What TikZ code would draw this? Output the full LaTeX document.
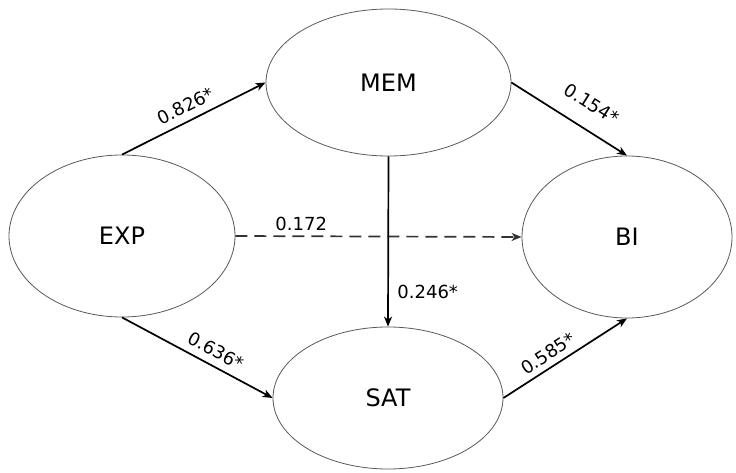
\documentclass[tikz,border=0pt]{standalone}
\usepackage{fontspec}
\setmainfont{DejaVu Sans}
\usetikzlibrary{shapes.geometric,arrows.meta}

\tikzset{
  construct/.style={ellipse, draw=black!65, line width=0.8pt, inner sep=0pt,
    font=\fontsize{24}{28}\selectfont},
  path/.style={line width=1.7pt, -{Stealth[length=10pt,width=8pt,inset=3pt]}},
  weakpath/.style={path, draw=black!80, dash pattern=on 12pt off 7pt},
  coef/.style={inner sep=0pt, font=\fontsize{18}{20}\selectfont}
}

\begin{document}
\begin{tikzpicture}[x=1pt, y=-1pt]
  \useasboundingbox (0,0) rectangle (736,473);

  % latent constructs
  \node[construct, minimum width=226pt, minimum height=162pt] (exp) at (122,236) {EXP};
  \node[construct, minimum width=245pt, minimum height=147pt] (mem) at (388.5,82.5) {MEM};
  \node[construct, minimum width=230pt, minimum height=142pt] (sat) at (388,398) {SAT};
  \node[construct, minimum width=210pt, minimum height=162pt] (bi)  at (627,237) {BI};

  % structural paths with coefficients
  \draw[path] (exp.north) -- node[coef, sloped, above=7.5pt, pos=0.49] {0.826*} (mem.west);
  \draw[path] (mem.east) -- node[coef, sloped, above=17pt, pos=0.58] {0.154*} (bi.north);
  \draw[weakpath] (exp.east) -- node[coef, above=4.5pt, pos=0.23] {0.172} (bi.west);
  \draw[path] (mem.south) -- node[coef, right=8.5pt, pos=0.795] {0.246*} (sat.north);
  \draw[path] (exp.south) -- node[coef, sloped, above=7.5pt, pos=0.578] {0.636*} (sat.west);
  \draw[path] (sat.east) -- node[coef, sloped, above=5.5pt, pos=0.42] {0.585*} (bi.south);
\end{tikzpicture}
\end{document}
